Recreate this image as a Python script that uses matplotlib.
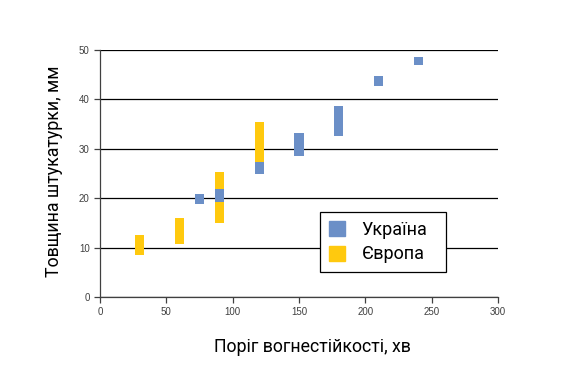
import matplotlib.pyplot as plt
from matplotlib.patches import Patch

# Fire resistance threshold (min) and plaster thickness ranges (mm)
ua_x = [75, 90, 120, 150, 180, 210, 240]
ua_low = [18.8, 19.3, 24.8, 28.6, 32.6, 42.8, 47.0]
ua_high = [20.8, 21.8, 27.3, 33.1, 38.7, 44.7, 48.6]

eu_x = [30, 60, 90, 120]
eu_low = [8.5, 10.7, 15.0, 27.3]
eu_high = [12.5, 16.0, 25.4, 35.4]

blue = "#6B8FC7"
yellow = "#FFC90E"

plt.rcParams["font.family"] = ["Roboto", "DejaVu Sans"]

fig = plt.figure(figsize=(5.76, 3.80), dpi=100)
ax = fig.add_axes([0.1736, 0.2184, 0.691, 0.65])

ax.bar(eu_x, [h - l for h, l in zip(eu_high, eu_low)], bottom=eu_low,
       width=7, color=yellow, zorder=3)
ax.bar(ua_x, [h - l for h, l in zip(ua_high, ua_low)], bottom=ua_low,
       width=7, color=blue, zorder=4)

ax.set_xlim(0, 300)
ax.set_ylim(0, 50)
ax.set_xticks(range(0, 301, 50))
ax.set_yticks(range(0, 51, 10))
ax.yaxis.grid(True, color="black", linewidth=0.9, zorder=0)
ax.set_axisbelow(True)

for s in ["top", "right"]:
    ax.spines[s].set_visible(False)
for s in ["left", "bottom"]:
    ax.spines[s].set_color("#404040")
    ax.spines[s].set_linewidth(0.9)

ax.tick_params(axis="both", direction="out", length=4, width=0.9,
               color="#404040", labelsize=7, labelcolor="#404040")
for lbl in ax.get_xticklabels() + ax.get_yticklabels():
    lbl.set_family("Liberation Sans")

ax.set_xlabel("Поріг вогнестійкості, хв", fontsize=12.8)
ax.set_ylabel("Товщина штукатурки, мм", fontsize=12.8)
ax.xaxis.set_label_coords(0.535, -0.165)
ax.yaxis.set_label_coords(-0.093, 0.51)

handles = [Patch(color=blue, label="Україна"), Patch(color=yellow, label="Європа")]
leg = ax.legend(handles=handles, loc="lower left", bbox_to_anchor=(0.553, 0.10, 0.316, 0.26),
                mode="expand", fontsize=13, frameon=True, fancybox=False,
                edgecolor="black", framealpha=1, handlelength=0.9, handleheight=0.9,
                borderpad=0.5, labelspacing=0.35, handletextpad=0.9, borderaxespad=0)
leg.get_frame().set_linewidth(0.9)
leg.set_zorder(5)

fig.savefig("out.png", dpi=100)
